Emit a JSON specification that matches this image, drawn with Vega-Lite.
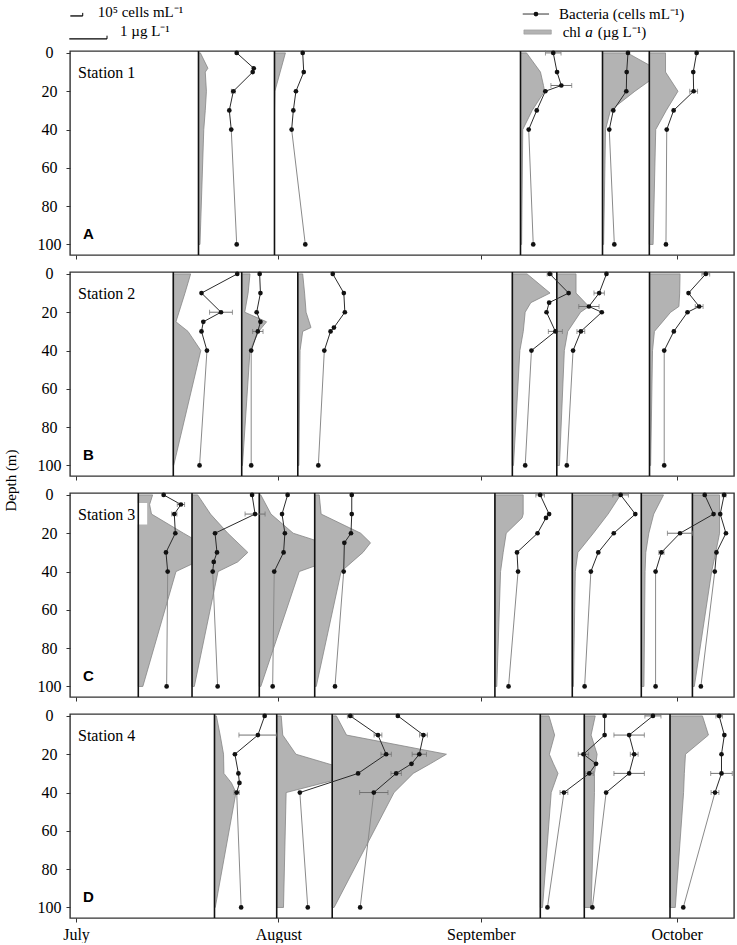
{
"$schema":"https://vega.github.io/schema/vega-lite/v6.json",
"background":"white",
"padding":{"left":2,"top":4,"right":0,"bottom":0},
"spacing":17,
"bounds":"flush",
"config":{"view":{"stroke":"#333","strokeWidth":1.4},"axis":{"labelColor":"#000","tickColor":"#333"}},
"datasets":{"prof":[
{"p":"A1","st":"A","day":18.76,"depth":0,"chl":0.05,"bact":2.94,"err":0},
{"p":"A1","st":"A","day":18.76,"depth":8,"chl":0.25,"bact":4.25,"err":0},
{"p":"A1","st":"A","day":18.76,"depth":10,"chl":0.18,"bact":4.17,"err":0},
{"p":"A1","st":"A","day":18.76,"depth":20,"chl":0.21,"bact":2.68,"err":0.15},
{"p":"A1","st":"A","day":18.76,"depth":30,"chl":0.18,"bact":2.37,"err":0},
{"p":"A1","st":"A","day":18.76,"depth":40,"chl":0.14,"bact":2.52,"err":0},
{"p":"A1","st":"A","day":18.76,"depth":100,"chl":0.04,"bact":2.94,"err":0},
{"p":"A2","st":"A","day":30.40,"depth":0,"chl":0.29,"bact":2.17,"err":0},
{"p":"A2","st":"A","day":30.40,"depth":10,"chl":0.15,"bact":2.25,"err":0},
{"p":"A2","st":"A","day":30.40,"depth":20,"chl":0.01,"bact":1.65,"err":0},
{"p":"A2","st":"A","day":30.40,"depth":30,"chl":0,"bact":1.45,"err":0},
{"p":"A2","st":"A","day":30.40,"depth":40,"chl":0,"bact":1.32,"err":0},
{"p":"A2","st":"A","day":30.40,"depth":100,"chl":0,"bact":2.37,"err":0},
{"p":"A3","st":"A","day":68.08,"depth":0,"chl":0.16,"bact":2.52,"err":0.6},
{"p":"A3","st":"A","day":68.08,"depth":10,"chl":0.53,"bact":2.81,"err":0},
{"p":"A3","st":"A","day":68.08,"depth":17,"chl":0.61,"bact":3.14,"err":0.8},
{"p":"A3","st":"A","day":68.08,"depth":20,"chl":0.64,"bact":1.91,"err":0},
{"p":"A3","st":"A","day":68.08,"depth":30,"chl":0.31,"bact":1.25,"err":0},
{"p":"A3","st":"A","day":68.08,"depth":40,"chl":0.06,"bact":0.63,"err":0},
{"p":"A3","st":"A","day":68.08,"depth":100,"chl":0.03,"bact":0.98,"err":0},
{"p":"A4","st":"A","day":80.64,"depth":0,"chl":0.66,"bact":1.96,"err":0},
{"p":"A4","st":"A","day":80.64,"depth":10,"chl":1.57,"bact":1.86,"err":0},
{"p":"A4","st":"A","day":80.64,"depth":20,"chl":0.86,"bact":1.83,"err":0},
{"p":"A4","st":"A","day":80.64,"depth":30,"chl":0.21,"bact":0.83,"err":0},
{"p":"A4","st":"A","day":80.64,"depth":40,"chl":0.08,"bact":0.52,"err":0},
{"p":"A4","st":"A","day":80.64,"depth":100,"chl":0.03,"bact":0.91,"err":0},
{"p":"A5","st":"A","day":87.81,"depth":0,"chl":0.43,"bact":3.64,"err":0},
{"p":"A5","st":"A","day":87.81,"depth":10,"chl":0.43,"bact":3.38,"err":0},
{"p":"A5","st":"A","day":87.81,"depth":20,"chl":0.76,"bact":3.41,"err":0.3},
{"p":"A5","st":"A","day":87.81,"depth":30,"chl":0.45,"bact":1.87,"err":0},
{"p":"A5","st":"A","day":87.81,"depth":40,"chl":0.17,"bact":1.34,"err":0},
{"p":"A5","st":"A","day":87.81,"depth":100,"chl":0.1,"bact":1.28,"err":0},
{"p":"B1","st":"B","day":14.90,"depth":0,"chl":0.46,"bact":4.92,"err":0},
{"p":"B1","st":"B","day":14.90,"depth":10,"chl":0.31,"bact":2.17,"err":0},
{"p":"B1","st":"B","day":14.90,"depth":20,"chl":0.15,"bact":3.67,"err":0.88},
{"p":"B1","st":"B","day":14.90,"depth":25,"chl":0.07,"bact":2.31,"err":0},
{"p":"B1","st":"B","day":14.90,"depth":30,"chl":0.39,"bact":2.17,"err":0},
{"p":"B1","st":"B","day":14.90,"depth":40,"chl":0.73,"bact":2.59,"err":0},
{"p":"B1","st":"B","day":14.90,"depth":100,"chl":0.01,"bact":2.02,"err":0},
{"p":"B2","st":"B","day":25.38,"depth":0,"chl":0.22,"bact":1.38,"err":0},
{"p":"B2","st":"B","day":25.38,"depth":10,"chl":0.17,"bact":1.44,"err":0},
{"p":"B2","st":"B","day":25.38,"depth":20,"chl":0.08,"bact":1.15,"err":0},
{"p":"B2","st":"B","day":25.38,"depth":25,"chl":0.66,"bact":1.44,"err":0},
{"p":"B2","st":"B","day":25.38,"depth":30,"chl":0.45,"bact":1.24,"err":0.4},
{"p":"B2","st":"B","day":25.38,"depth":40,"chl":0.22,"bact":0.73,"err":0},
{"p":"B2","st":"B","day":25.38,"depth":100,"chl":0.02,"bact":0.73,"err":0},
{"p":"B3","st":"B","day":33.97,"depth":0,"chl":0.13,"bact":2.69,"err":0},
{"p":"B3","st":"B","day":33.97,"depth":10,"chl":0.18,"bact":3.54,"err":0},
{"p":"B3","st":"B","day":33.97,"depth":20,"chl":0.22,"bact":3.62,"err":0},
{"p":"B3","st":"B","day":33.97,"depth":28,"chl":0.35,"bact":2.78,"err":0},
{"p":"B3","st":"B","day":33.97,"depth":30,"chl":0.13,"bact":2.52,"err":0},
{"p":"B3","st":"B","day":33.97,"depth":40,"chl":0.06,"bact":2.04,"err":0},
{"p":"B3","st":"B","day":33.97,"depth":100,"chl":0.03,"bact":1.58,"err":0},
{"p":"B4","st":"B","day":66.83,"depth":0,"chl":0.39,"bact":2.88,"err":0.2},
{"p":"B4","st":"B","day":66.83,"depth":10,"chl":1.0,"bact":4.33,"err":0},
{"p":"B4","st":"B","day":66.83,"depth":15,"chl":0.49,"bact":2.83,"err":0},
{"p":"B4","st":"B","day":66.83,"depth":20,"chl":0.34,"bact":2.63,"err":0},
{"p":"B4","st":"B","day":66.83,"depth":30,"chl":0.29,"bact":3.31,"err":0.54},
{"p":"B4","st":"B","day":66.83,"depth":40,"chl":0.2,"bact":1.47,"err":0},
{"p":"B4","st":"B","day":66.83,"depth":100,"chl":0.03,"bact":0.99,"err":0},
{"p":"B5","st":"B","day":73.64,"depth":0,"chl":0.51,"bact":3.82,"err":0},
{"p":"B5","st":"B","day":73.64,"depth":10,"chl":0.51,"bact":3.26,"err":0.4},
{"p":"B5","st":"B","day":73.64,"depth":17,"chl":0.85,"bact":2.47,"err":0.78},
{"p":"B5","st":"B","day":73.64,"depth":20,"chl":0.63,"bact":3.46,"err":0},
{"p":"B5","st":"B","day":73.64,"depth":30,"chl":0.29,"bact":1.85,"err":0.3},
{"p":"B5","st":"B","day":73.64,"depth":40,"chl":0.2,"bact":1.25,"err":0},
{"p":"B5","st":"B","day":73.64,"depth":100,"chl":0.07,"bact":0.77,"err":0},
{"p":"B6","st":"B","day":87.84,"depth":0,"chl":0.81,"bact":4.33,"err":0.3},
{"p":"B6","st":"B","day":87.84,"depth":10,"chl":0.8,"bact":3.0,"err":0},
{"p":"B6","st":"B","day":87.84,"depth":17,"chl":0.78,"bact":3.82,"err":0.3},
{"p":"B6","st":"B","day":87.84,"depth":20,"chl":0.56,"bact":2.92,"err":0},
{"p":"B6","st":"B","day":87.84,"depth":30,"chl":0.13,"bact":1.87,"err":0},
{"p":"B6","st":"B","day":87.84,"depth":40,"chl":0.08,"bact":1.13,"err":0},
{"p":"B6","st":"B","day":87.84,"depth":100,"chl":0.03,"bact":1.13,"err":0},
{"p":"C1","st":"C","day":9.54,"depth":0,"chl":0.38,"bact":1.95,"err":0},
{"p":"C1","st":"C","day":9.54,"depth":5,"chl":0.3,"bact":3.28,"err":0.28},
{"p":"C1","st":"C","day":9.54,"depth":10,"chl":0.35,"bact":2.77,"err":0.2},
{"p":"C1","st":"C","day":9.54,"depth":20,"chl":1.2,"bact":2.85,"err":0},
{"p":"C1","st":"C","day":9.54,"depth":30,"chl":2.08,"bact":2.13,"err":0},
{"p":"C1","st":"C","day":9.54,"depth":40,"chl":1.0,"bact":2.26,"err":0},
{"p":"C1","st":"C","day":9.54,"depth":100,"chl":0.12,"bact":2.18,"err":0},
{"p":"C2","st":"C","day":17.77,"depth":0,"chl":0.15,"bact":4.62,"err":0},
{"p":"C2","st":"C","day":17.77,"depth":10,"chl":0.49,"bact":4.85,"err":0.77},
{"p":"C2","st":"C","day":17.77,"depth":20,"chl":0.95,"bact":1.77,"err":0},
{"p":"C2","st":"C","day":17.77,"depth":30,"chl":1.48,"bact":1.92,"err":0},
{"p":"C2","st":"C","day":17.77,"depth":35,"chl":1.21,"bact":1.67,"err":0},
{"p":"C2","st":"C","day":17.77,"depth":40,"chl":0.69,"bact":1.59,"err":0},
{"p":"C2","st":"C","day":17.77,"depth":100,"chl":0.06,"bact":1.97,"err":0},
{"p":"C3","st":"C","day":28.07,"depth":0,"chl":0.04,"bact":2.18,"err":0},
{"p":"C3","st":"C","day":28.07,"depth":10,"chl":0.31,"bact":1.75,"err":0},
{"p":"C3","st":"C","day":28.07,"depth":20,"chl":0.9,"bact":1.97,"err":0},
{"p":"C3","st":"C","day":28.07,"depth":30,"chl":2.48,"bact":1.87,"err":0},
{"p":"C3","st":"C","day":28.07,"depth":40,"chl":1.06,"bact":1.15,"err":0},
{"p":"C3","st":"C","day":28.07,"depth":100,"chl":0.04,"bact":1.03,"err":0},
{"p":"C4","st":"C","day":36.56,"depth":0,"chl":0.12,"bact":2.85,"err":0},
{"p":"C4","st":"C","day":36.56,"depth":10,"chl":0.17,"bact":2.85,"err":0},
{"p":"C4","st":"C","day":36.56,"depth":20,"chl":1.22,"bact":2.79,"err":0},
{"p":"C4","st":"C","day":36.56,"depth":25,"chl":1.48,"bact":2.28,"err":0},
{"p":"C4","st":"C","day":36.56,"depth":30,"chl":1.28,"bact":null,"err":0},
{"p":"C4","st":"C","day":36.56,"depth":40,"chl":0.7,"bact":2.23,"err":0},
{"p":"C4","st":"C","day":36.56,"depth":100,"chl":0.04,"bact":1.56,"err":0},
{"p":"C5","st":"C","day":64.16,"depth":0,"chl":0.75,"bact":3.48,"err":0.33},
{"p":"C5","st":"C","day":64.16,"depth":10,"chl":0.75,"bact":4.17,"err":0},
{"p":"C5","st":"C","day":64.16,"depth":12,"chl":0.72,"bact":3.93,"err":0},
{"p":"C5","st":"C","day":64.16,"depth":20,"chl":0.3,"bact":3.28,"err":0},
{"p":"C5","st":"C","day":64.16,"depth":30,"chl":0.22,"bact":1.70,"err":0},
{"p":"C5","st":"C","day":64.16,"depth":40,"chl":0.15,"bact":1.78,"err":0},
{"p":"C5","st":"C","day":64.16,"depth":100,"chl":0.05,"bact":1.05,"err":0},
{"p":"C6","st":"C","day":76.01,"depth":0,"chl":1.28,"bact":3.72,"err":0.6},
{"p":"C6","st":"C","day":76.01,"depth":10,"chl":0.95,"bact":4.85,"err":0},
{"p":"C6","st":"C","day":76.01,"depth":20,"chl":0.56,"bact":3.19,"err":0},
{"p":"C6","st":"C","day":76.01,"depth":30,"chl":0.15,"bact":2.0,"err":0},
{"p":"C6","st":"C","day":76.01,"depth":40,"chl":0.08,"bact":1.43,"err":0},
{"p":"C6","st":"C","day":76.01,"depth":100,"chl":0.03,"bact":0.95,"err":0},
{"p":"C7","st":"C","day":86.58,"depth":0,"chl":0.59,"bact":4.88,"err":0},
{"p":"C7","st":"C","day":86.58,"depth":10,"chl":0.33,"bact":5.56,"err":0},
{"p":"C7","st":"C","day":86.58,"depth":20,"chl":0.2,"bact":2.98,"err":0.97},
{"p":"C7","st":"C","day":86.58,"depth":30,"chl":0.12,"bact":1.55,"err":0.2},
{"p":"C7","st":"C","day":86.58,"depth":40,"chl":0.1,"bact":1.1,"err":0},
{"p":"C7","st":"C","day":86.58,"depth":100,"chl":0.07,"bact":1.1,"err":0},
{"p":"C8","st":"C","day":94.41,"depth":0,"chl":0.72,"bact":2.44,"err":0.15},
{"p":"C8","st":"C","day":94.41,"depth":10,"chl":0.72,"bact":2.14,"err":0},
{"p":"C8","st":"C","day":94.41,"depth":20,"chl":0.72,"bact":2.58,"err":0},
{"p":"C8","st":"C","day":94.41,"depth":30,"chl":0.62,"bact":1.85,"err":0},
{"p":"C8","st":"C","day":94.41,"depth":40,"chl":0.51,"bact":1.72,"err":0},
{"p":"C8","st":"C","day":94.41,"depth":100,"chl":0.05,"bact":0.65,"err":0},
{"p":"D1","st":"D","day":21.21,"depth":0,"chl":0.05,"bact":3.86,"err":0},
{"p":"D1","st":"D","day":21.21,"depth":10,"chl":0.15,"bact":3.34,"err":1.46},
{"p":"D1","st":"D","day":21.21,"depth":20,"chl":0.24,"bact":1.57,"err":0},
{"p":"D1","st":"D","day":21.21,"depth":30,"chl":0.25,"bact":1.84,"err":0},
{"p":"D1","st":"D","day":21.21,"depth":35,"chl":0.45,"bact":1.92,"err":0},
{"p":"D1","st":"D","day":21.21,"depth":40,"chl":0.57,"bact":1.71,"err":0.2},
{"p":"D1","st":"D","day":21.21,"depth":100,"chl":0.02,"bact":2.05,"err":0},
{"p":"D2","st":"D","day":30.74,"depth":0,"chl":0.12,"bact":5.66,"err":0.22},
{"p":"D2","st":"D","day":30.74,"depth":10,"chl":0.16,"bact":7.79,"err":0.3},
{"p":"D2","st":"D","day":30.74,"depth":20,"chl":0.51,"bact":8.42,"err":0.4},
{"p":"D2","st":"D","day":30.74,"depth":30,"chl":2.23,"bact":6.26,"err":0},
{"p":"D2","st":"D","day":30.74,"depth":40,"chl":0.25,"bact":1.78,"err":0},
{"p":"D2","st":"D","day":30.74,"depth":100,"chl":0.18,"bact":2.39,"err":0},
{"p":"D3","st":"D","day":39.24,"depth":0,"chl":0.11,"bact":5.05,"err":0},
{"p":"D3","st":"D","day":39.24,"depth":10,"chl":0.38,"bact":7.02,"err":0.3},
{"p":"D3","st":"D","day":39.24,"depth":20,"chl":3.03,"bact":6.7,"err":0.55},
{"p":"D3","st":"D","day":39.24,"depth":25,"chl":2.6,"bact":6.1,"err":0},
{"p":"D3","st":"D","day":39.24,"depth":30,"chl":2.15,"bact":4.92,"err":0.4},
{"p":"D3","st":"D","day":39.24,"depth":40,"chl":1.64,"bact":3.2,"err":1.09},
{"p":"D3","st":"D","day":39.24,"depth":100,"chl":0.05,"bact":2.15,"err":0},
{"p":"D4","st":"D","day":71.11,"depth":0,"chl":0.23,"bact":4.95,"err":0},
{"p":"D4","st":"D","day":71.11,"depth":10,"chl":0.38,"bact":4.95,"err":0},
{"p":"D4","st":"D","day":71.11,"depth":20,"chl":0.24,"bact":3.32,"err":0.4},
{"p":"D4","st":"D","day":71.11,"depth":25,"chl":0.35,"bact":4.29,"err":0},
{"p":"D4","st":"D","day":71.11,"depth":30,"chl":0.47,"bact":3.77,"err":0.3},
{"p":"D4","st":"D","day":71.11,"depth":40,"chl":0.29,"bact":1.82,"err":0.3},
{"p":"D4","st":"D","day":71.11,"depth":100,"chl":0.06,"bact":0.55,"err":0},
{"p":"D5","st":"D","day":77.85,"depth":0,"chl":0.29,"bact":5.28,"err":0.62},
{"p":"D5","st":"D","day":77.85,"depth":10,"chl":0.18,"bact":3.45,"err":1.17},
{"p":"D5","st":"D","day":77.85,"depth":20,"chl":0.34,"bact":3.84,"err":0.3},
{"p":"D5","st":"D","day":77.85,"depth":30,"chl":0.27,"bact":3.45,"err":1.17},
{"p":"D5","st":"D","day":77.85,"depth":40,"chl":0.27,"bact":1.68,"err":0},
{"p":"D5","st":"D","day":77.85,"depth":100,"chl":0.18,"bact":0.62,"err":0},
{"p":"D6","st":"D","day":90.98,"depth":0,"chl":0.86,"bact":3.78,"err":0.25},
{"p":"D6","st":"D","day":90.98,"depth":10,"chl":1.02,"bact":4.18,"err":0},
{"p":"D6","st":"D","day":90.98,"depth":20,"chl":0.41,"bact":3.96,"err":0},
{"p":"D6","st":"D","day":90.98,"depth":30,"chl":0.38,"bact":3.96,"err":0.83},
{"p":"D6","st":"D","day":90.98,"depth":40,"chl":0.36,"bact":3.46,"err":0.3},
{"p":"D6","st":"D","day":90.98,"depth":100,"chl":0.14,"bact":1.02,"err":0}
]},
"vconcat":[
{"width":664,"height":204,"layer":[
 {"data":{"name":"prof"},"transform":[{"filter":"datum.st == 'A'"},{"calculate":"datum.day + datum.chl * 5.774","as":"xc"}],
  "layer":[{"transform":[{"filter":"datum.chl != null"}],"mark":{"type":"area","orient":"horizontal","fill":"#b3b3b3","stroke":"#858585","strokeWidth":0.8},
   "encoding":{"x":{"field":"xc","type":"quantitative","scale":{"domain":[-0.92,100.78],"nice":false,"zero":false},"axis":{"values":[0,31,62,92],"domain":false,"grid":false,"tickSize":4,"labels":false,"title":null}},"x2":{"field":"day"},"y":{"field":"depth","type":"quantitative","scale":{"domain":[-1,105.5],"reverse":true,"nice":false,"zero":false},"axis":{"values":[0,20,40,60,80,100],"domain":false,"grid":false,"tickSize":4,"labelFont":"Liberation Serif","labelFontSize":16,"labelAlign":"center","labelPadding":17,"title":null}},"detail":{"field":"p"}}}]},
 {"data":{"name":"prof"},"transform":[{"filter":"datum.st == 'A'"},{"calculate":"datum.day + datum.bact * 1.991","as":"xb"},{"calculate":"datum.day + (datum.bact - datum.err) * 1.991","as":"xlo"},{"calculate":"datum.day + (datum.bact + datum.err) * 1.991","as":"xhi"}],
  "layer":[
   {"transform":[{"aggregate":[{"op":"count","as":"n"}],"groupby":["day"]}],"mark":{"type":"rule","color":"#111","strokeWidth":1.6},"encoding":{"x":{"field":"day","type":"quantitative"}}},
   {"transform":[{"filter":"datum.bact != null && datum.depth <= 40"}],"mark":{"type":"line","color":"#2a2a2a","strokeWidth":1},"encoding":{"x":{"field":"xb","type":"quantitative"},"y":{"field":"depth","type":"quantitative"},"detail":{"field":"p"},"order":{"field":"depth"}}},
   {"transform":[{"filter":"datum.bact != null && datum.depth >= 40"}],"mark":{"type":"line","color":"#8a8a8a","strokeWidth":1},"encoding":{"x":{"field":"xb","type":"quantitative"},"y":{"field":"depth","type":"quantitative"},"detail":{"field":"p"},"order":{"field":"depth"}}},
   {"transform":[{"filter":"datum.err > 0"}],"mark":{"type":"rule","color":"#707070","strokeWidth":1},"encoding":{"x":{"field":"xlo","type":"quantitative"},"x2":{"field":"xhi"},"y":{"field":"depth","type":"quantitative"}}},
   {"transform":[{"filter":"datum.err > 0"}],"mark":{"type":"tick","orient":"vertical","color":"#707070","size":5,"thickness":1},"encoding":{"x":{"field":"xlo","type":"quantitative"},"y":{"field":"depth","type":"quantitative"}}},
   {"transform":[{"filter":"datum.err > 0"}],"mark":{"type":"tick","orient":"vertical","color":"#707070","size":5,"thickness":1},"encoding":{"x":{"field":"xhi","type":"quantitative"},"y":{"field":"depth","type":"quantitative"}}},
   {"transform":[{"filter":"datum.bact != null"}],"mark":{"type":"point","filled":true,"color":"#111","size":22,"opacity":1},"encoding":{"x":{"field":"xb","type":"quantitative"},"y":{"field":"depth","type":"quantitative"}}}
  ]},
 {"data":{"values":[{}]},"mark":{"type":"text","text":"Station 1","font":"Liberation Serif","fontSize":16,"align":"left","baseline":"middle","color":"#000"},"encoding":{"x":{"datum":0.31},"y":{"datum":10.3}}},
 {"data":{"values":[{}]},"mark":{"type":"text","text":"A","font":"Liberation Sans","fontWeight":"bold","fontSize":15,"align":"left","baseline":"middle","color":"#000"},"encoding":{"x":{"datum":1.07},"y":{"datum":94.6}}},
 {"data":{"values":[{}]},"mark":{"type":"rule","color":"#000","strokeWidth":1.3},"encoding":{"x":{"datum":-0.87},"x2":{"datum":1.03},"y":{"datum":-19.3}}},
 {"data":{"values":[{}]},"mark":{"type":"rule","color":"#000","strokeWidth":1},"encoding":{"x":{"datum":1.03},"y":{"datum":-19.3},"y2":{"datum":-20.9}}},
 {"data":{"values":[{}]},"mark":{"type":"rule","color":"#000","strokeWidth":1.3},"encoding":{"x":{"datum":-1.03},"x2":{"datum":4.75},"y":{"datum":-7.3}}},
 {"data":{"values":[{}]},"mark":{"type":"rule","color":"#000","strokeWidth":1},"encoding":{"x":{"datum":4.75},"y":{"datum":-7.3},"y2":{"datum":-9.0}}},
 {"data":{"values":[{}]},"mark":{"type":"text","text":"10⁵ cells mL⁻¹","font":"Liberation Serif","fontSize":15,"align":"left","baseline":"middle","color":"#000"},"encoding":{"x":{"datum":3.32},"y":{"datum":-21.4}}},
 {"data":{"values":[{}]},"mark":{"type":"text","text":"1 µg L⁻¹","font":"Liberation Serif","fontSize":15,"align":"left","baseline":"middle","color":"#000"},"encoding":{"x":{"datum":6.74},"y":{"datum":-11.4}}},
 {"data":{"values":[{}]},"mark":{"type":"rule","color":"#333","strokeWidth":1},"encoding":{"x":{"datum":68.42},"x2":{"datum":72.45},"y":{"datum":-20.3}}},
 {"data":{"values":[{}]},"mark":{"type":"point","filled":true,"color":"#111","size":22,"opacity":1},"encoding":{"x":{"datum":70.45},"y":{"datum":-20.3}}},
 {"data":{"values":[{}]},"mark":{"type":"text","text":"Bacteria (cells mL⁻¹)","font":"Liberation Serif","fontSize":15,"align":"left","baseline":"middle","color":"#000"},"encoding":{"x":{"datum":73.98},"y":{"datum":-20.3}}},
 {"data":{"values":[{}]},"mark":{"type":"rect","fill":"#b3b3b3","stroke":"#999","strokeWidth":0.6},"encoding":{"x":{"datum":68.6},"x2":{"datum":72.8},"y":{"datum":-12.0},"y2":{"datum":-9.8}}},
 {"data":{"values":[{}]},"mark":{"type":"text","text":"chl","font":"Liberation Serif","fontSize":15,"align":"left","baseline":"middle","color":"#000"},"encoding":{"x":{"datum":74.54},"y":{"datum":-10.9}}},
 {"data":{"values":[{}]},"mark":{"type":"text","text":"a","font":"Liberation Serif","fontStyle":"italic","fontSize":15,"align":"left","baseline":"middle","color":"#000"},"encoding":{"x":{"datum":78.0},"y":{"datum":-10.9}}},
 {"data":{"values":[{}]},"mark":{"type":"text","text":"(µg L⁻¹)","font":"Liberation Serif","fontSize":15,"align":"left","baseline":"middle","color":"#000"},"encoding":{"x":{"datum":79.9},"y":{"datum":-10.9}}}
]},
{"width":664,"height":204,"layer":[
 {"data":{"name":"prof"},"transform":[{"filter":"datum.st == 'B'"},{"calculate":"datum.day + datum.chl * 5.774","as":"xc"}],
  "layer":[{"transform":[{"filter":"datum.chl != null"}],"mark":{"type":"area","orient":"horizontal","fill":"#b3b3b3","stroke":"#858585","strokeWidth":0.8},
   "encoding":{"x":{"field":"xc","type":"quantitative","scale":{"domain":[-0.92,100.78],"nice":false,"zero":false},"axis":{"values":[0,31,62,92],"domain":false,"grid":false,"tickSize":4,"labels":false,"title":null}},"x2":{"field":"day"},"y":{"field":"depth","type":"quantitative","scale":{"domain":[-1,105.5],"reverse":true,"nice":false,"zero":false},"axis":{"values":[0,20,40,60,80,100],"domain":false,"grid":false,"tickSize":4,"labelFont":"Liberation Serif","labelFontSize":16,"labelAlign":"center","labelPadding":17,"title":"Depth (m)","titleFont":"Liberation Serif","titleFontSize":15,"titleFontWeight":"normal","titleColor":"#000","titleAngle":270,"titleBaseline":"bottom","titleAlign":"center","titleX":-52,"titleY":208}},"detail":{"field":"p"}}}]},
 {"data":{"name":"prof"},"transform":[{"filter":"datum.st == 'B'"},{"calculate":"datum.day + datum.bact * 1.991","as":"xb"},{"calculate":"datum.day + (datum.bact - datum.err) * 1.991","as":"xlo"},{"calculate":"datum.day + (datum.bact + datum.err) * 1.991","as":"xhi"}],
  "layer":[
   {"transform":[{"aggregate":[{"op":"count","as":"n"}],"groupby":["day"]}],"mark":{"type":"rule","color":"#111","strokeWidth":1.6},"encoding":{"x":{"field":"day","type":"quantitative"}}},
   {"transform":[{"filter":"datum.bact != null && datum.depth <= 40"}],"mark":{"type":"line","color":"#2a2a2a","strokeWidth":1},"encoding":{"x":{"field":"xb","type":"quantitative"},"y":{"field":"depth","type":"quantitative"},"detail":{"field":"p"},"order":{"field":"depth"}}},
   {"transform":[{"filter":"datum.bact != null && datum.depth >= 40"}],"mark":{"type":"line","color":"#8a8a8a","strokeWidth":1},"encoding":{"x":{"field":"xb","type":"quantitative"},"y":{"field":"depth","type":"quantitative"},"detail":{"field":"p"},"order":{"field":"depth"}}},
   {"transform":[{"filter":"datum.err > 0"}],"mark":{"type":"rule","color":"#707070","strokeWidth":1},"encoding":{"x":{"field":"xlo","type":"quantitative"},"x2":{"field":"xhi"},"y":{"field":"depth","type":"quantitative"}}},
   {"transform":[{"filter":"datum.err > 0"}],"mark":{"type":"tick","orient":"vertical","color":"#707070","size":5,"thickness":1},"encoding":{"x":{"field":"xlo","type":"quantitative"},"y":{"field":"depth","type":"quantitative"}}},
   {"transform":[{"filter":"datum.err > 0"}],"mark":{"type":"tick","orient":"vertical","color":"#707070","size":5,"thickness":1},"encoding":{"x":{"field":"xhi","type":"quantitative"},"y":{"field":"depth","type":"quantitative"}}},
   {"transform":[{"filter":"datum.bact != null"}],"mark":{"type":"point","filled":true,"color":"#111","size":22,"opacity":1},"encoding":{"x":{"field":"xb","type":"quantitative"},"y":{"field":"depth","type":"quantitative"}}}
  ]},
 {"data":{"values":[{}]},"mark":{"type":"text","text":"Station 2","font":"Liberation Serif","fontSize":16,"align":"left","baseline":"middle","color":"#000"},"encoding":{"x":{"datum":0.31},"y":{"datum":10.3}}},
 {"data":{"values":[{}]},"mark":{"type":"text","text":"B","font":"Liberation Sans","fontWeight":"bold","fontSize":15,"align":"left","baseline":"middle","color":"#000"},"encoding":{"x":{"datum":1.07},"y":{"datum":94.6}}}
]},
{"width":664,"height":204,"layer":[
 {"data":{"name":"prof"},"transform":[{"filter":"datum.st == 'C'"},{"calculate":"datum.day + datum.chl * 5.774","as":"xc"}],
  "layer":[{"transform":[{"filter":"datum.chl != null"}],"mark":{"type":"area","orient":"horizontal","fill":"#b3b3b3","stroke":"#858585","strokeWidth":0.8},
   "encoding":{"x":{"field":"xc","type":"quantitative","scale":{"domain":[-0.92,100.78],"nice":false,"zero":false},"axis":{"values":[0,31,62,92],"domain":false,"grid":false,"tickSize":4,"labels":false,"title":null}},"x2":{"field":"day"},"y":{"field":"depth","type":"quantitative","scale":{"domain":[-1,105.5],"reverse":true,"nice":false,"zero":false},"axis":{"values":[0,20,40,60,80,100],"domain":false,"grid":false,"tickSize":4,"labelFont":"Liberation Serif","labelFontSize":16,"labelAlign":"center","labelPadding":17,"title":null}},"detail":{"field":"p"}}}]},
 {"data":{"values":[{}]},"mark":{"type":"rect","fill":"white"},"encoding":{"x":{"datum":-0.45},"x2":{"datum":10.9},"y":{"datum":4.2},"y2":{"datum":15.5}}},
 {"data":{"name":"prof"},"transform":[{"filter":"datum.st == 'C'"},{"calculate":"datum.day + datum.bact * 1.991","as":"xb"},{"calculate":"datum.day + (datum.bact - datum.err) * 1.991","as":"xlo"},{"calculate":"datum.day + (datum.bact + datum.err) * 1.991","as":"xhi"}],
  "layer":[
   {"transform":[{"aggregate":[{"op":"count","as":"n"}],"groupby":["day"]}],"mark":{"type":"rule","color":"#111","strokeWidth":1.6},"encoding":{"x":{"field":"day","type":"quantitative"}}},
   {"transform":[{"filter":"datum.bact != null && datum.depth <= 40"}],"mark":{"type":"line","color":"#2a2a2a","strokeWidth":1},"encoding":{"x":{"field":"xb","type":"quantitative"},"y":{"field":"depth","type":"quantitative"},"detail":{"field":"p"},"order":{"field":"depth"}}},
   {"transform":[{"filter":"datum.bact != null && datum.depth >= 40"}],"mark":{"type":"line","color":"#8a8a8a","strokeWidth":1},"encoding":{"x":{"field":"xb","type":"quantitative"},"y":{"field":"depth","type":"quantitative"},"detail":{"field":"p"},"order":{"field":"depth"}}},
   {"transform":[{"filter":"datum.err > 0"}],"mark":{"type":"rule","color":"#707070","strokeWidth":1},"encoding":{"x":{"field":"xlo","type":"quantitative"},"x2":{"field":"xhi"},"y":{"field":"depth","type":"quantitative"}}},
   {"transform":[{"filter":"datum.err > 0"}],"mark":{"type":"tick","orient":"vertical","color":"#707070","size":5,"thickness":1},"encoding":{"x":{"field":"xlo","type":"quantitative"},"y":{"field":"depth","type":"quantitative"}}},
   {"transform":[{"filter":"datum.err > 0"}],"mark":{"type":"tick","orient":"vertical","color":"#707070","size":5,"thickness":1},"encoding":{"x":{"field":"xhi","type":"quantitative"},"y":{"field":"depth","type":"quantitative"}}},
   {"transform":[{"filter":"datum.bact != null"}],"mark":{"type":"point","filled":true,"color":"#111","size":22,"opacity":1},"encoding":{"x":{"field":"xb","type":"quantitative"},"y":{"field":"depth","type":"quantitative"}}}
  ]},
 {"data":{"values":[{}]},"mark":{"type":"text","text":"Station 3","font":"Liberation Serif","fontSize":16,"align":"left","baseline":"middle","color":"#000"},"encoding":{"x":{"datum":0.31},"y":{"datum":10.3}}},
 {"data":{"values":[{}]},"mark":{"type":"text","text":"C","font":"Liberation Sans","fontWeight":"bold","fontSize":15,"align":"left","baseline":"middle","color":"#000"},"encoding":{"x":{"datum":1.07},"y":{"datum":94.6}}}
]},
{"width":664,"height":204,"layer":[
 {"data":{"name":"prof"},"transform":[{"filter":"datum.st == 'D'"},{"calculate":"datum.day + datum.chl * 5.774","as":"xc"}],
  "layer":[{"transform":[{"filter":"datum.chl != null"}],"mark":{"type":"area","orient":"horizontal","fill":"#b3b3b3","stroke":"#858585","strokeWidth":0.8},
   "encoding":{"x":{"field":"xc","type":"quantitative","scale":{"domain":[-0.92,100.78],"nice":false,"zero":false},"axis":{"values":[0,31,62,92],"domain":false,"grid":false,"tickSize":4,"labelExpr":"datum.value == 0 ? 'July' : datum.value == 31 ? 'August' : datum.value == 62 ? 'September' : 'October'","labelFont":"Liberation Serif","labelFontSize":16,"labelPadding":4,"labelColor":"#000","title":null}},"x2":{"field":"day"},"y":{"field":"depth","type":"quantitative","scale":{"domain":[-1,105.5],"reverse":true,"nice":false,"zero":false},"axis":{"values":[0,20,40,60,80,100],"domain":false,"grid":false,"tickSize":4,"labelFont":"Liberation Serif","labelFontSize":16,"labelAlign":"center","labelPadding":17,"title":null}},"detail":{"field":"p"}}}]},
 {"data":{"name":"prof"},"transform":[{"filter":"datum.st == 'D'"},{"calculate":"datum.day + datum.bact * 1.991","as":"xb"},{"calculate":"datum.day + (datum.bact - datum.err) * 1.991","as":"xlo"},{"calculate":"datum.day + (datum.bact + datum.err) * 1.991","as":"xhi"}],
  "layer":[
   {"transform":[{"aggregate":[{"op":"count","as":"n"}],"groupby":["day"]}],"mark":{"type":"rule","color":"#111","strokeWidth":1.6},"encoding":{"x":{"field":"day","type":"quantitative"}}},
   {"transform":[{"filter":"datum.bact != null && datum.depth <= 40"}],"mark":{"type":"line","color":"#2a2a2a","strokeWidth":1},"encoding":{"x":{"field":"xb","type":"quantitative"},"y":{"field":"depth","type":"quantitative"},"detail":{"field":"p"},"order":{"field":"depth"}}},
   {"transform":[{"filter":"datum.bact != null && datum.depth >= 40"}],"mark":{"type":"line","color":"#8a8a8a","strokeWidth":1},"encoding":{"x":{"field":"xb","type":"quantitative"},"y":{"field":"depth","type":"quantitative"},"detail":{"field":"p"},"order":{"field":"depth"}}},
   {"transform":[{"filter":"datum.err > 0"}],"mark":{"type":"rule","color":"#707070","strokeWidth":1},"encoding":{"x":{"field":"xlo","type":"quantitative"},"x2":{"field":"xhi"},"y":{"field":"depth","type":"quantitative"}}},
   {"transform":[{"filter":"datum.err > 0"}],"mark":{"type":"tick","orient":"vertical","color":"#707070","size":5,"thickness":1},"encoding":{"x":{"field":"xlo","type":"quantitative"},"y":{"field":"depth","type":"quantitative"}}},
   {"transform":[{"filter":"datum.err > 0"}],"mark":{"type":"tick","orient":"vertical","color":"#707070","size":5,"thickness":1},"encoding":{"x":{"field":"xhi","type":"quantitative"},"y":{"field":"depth","type":"quantitative"}}},
   {"transform":[{"filter":"datum.bact != null"}],"mark":{"type":"point","filled":true,"color":"#111","size":22,"opacity":1},"encoding":{"x":{"field":"xb","type":"quantitative"},"y":{"field":"depth","type":"quantitative"}}}
  ]},
 {"data":{"values":[{}]},"mark":{"type":"text","text":"Station 4","font":"Liberation Serif","fontSize":16,"align":"left","baseline":"middle","color":"#000"},"encoding":{"x":{"datum":0.31},"y":{"datum":10.3}}},
 {"data":{"values":[{}]},"mark":{"type":"text","text":"D","font":"Liberation Sans","fontWeight":"bold","fontSize":15,"align":"left","baseline":"middle","color":"#000"},"encoding":{"x":{"datum":1.07},"y":{"datum":94.6}}}
]}
]
}
